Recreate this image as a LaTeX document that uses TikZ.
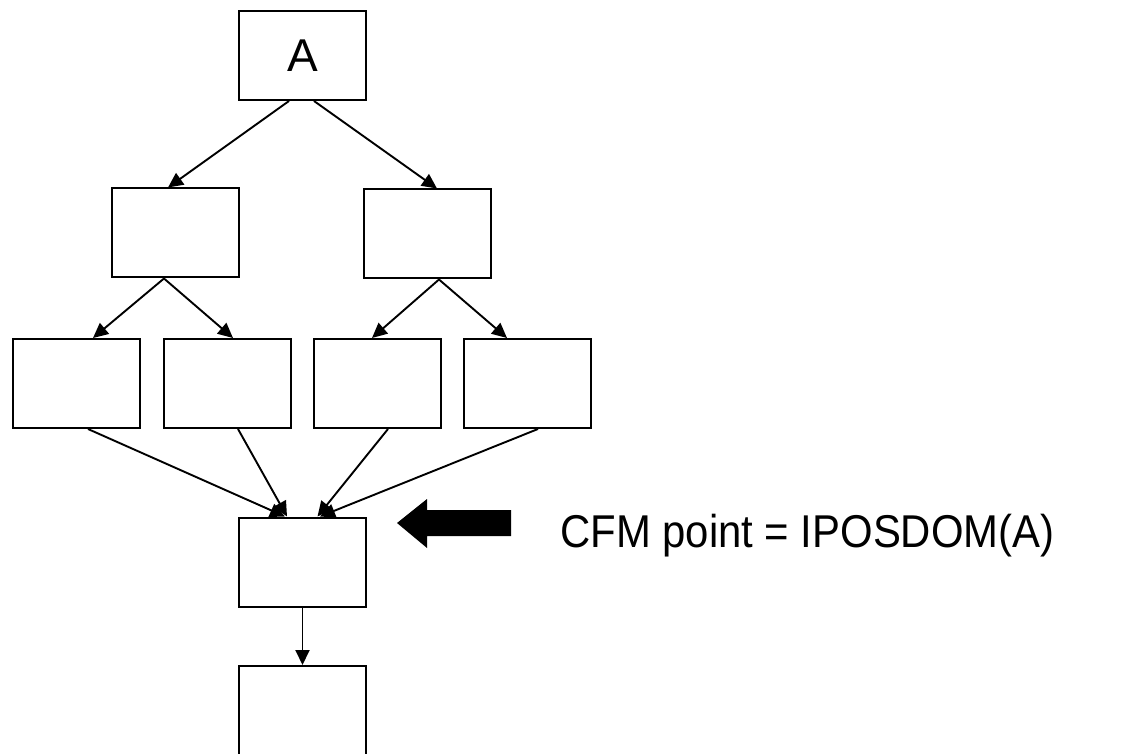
\documentclass[tikz,border=0pt]{standalone}
\usepackage{fontspec}
\usepackage{graphicx}
\setmainfont{Liberation Sans}
\usetikzlibrary{arrows.meta}
\begin{document}
\begin{tikzpicture}[x=1pt,y=-1pt,
  big/.style={font=\fontsize{46}{50}\selectfont},
  box/.style={draw, line width=2pt, minimum width=127pt, minimum height=89pt,
              inner sep=0pt, big},
  link/.style={line width=1.9pt, -{Triangle[length=15pt,width=14pt]}}]
\useasboundingbox (0,0) rectangle (1133,754);

% dominator tree boxes
\node[box] (A)  at (302.5,55.5) {A};
\node[box] (L)  at (175,233) {};
\node[box] (R)  at (427.5,234) {};
\node[box] (b1) at (76.5,383.5) {};
\node[box] (b2) at (227.5,383.5) {};
\node[box] (b3) at (377,383.5) {};
\node[box] (b4) at (527.5,383.5) {};
\node[box] (M)  at (302.5,562) {};
\node[box, minimum height=92pt] (E) at (302.5,712) {};

% edges
\draw[link] ([xshift=-13.5pt]A.south) -- ([xshift=-7pt]L.north);
\draw[link] ([xshift=11.5pt]A.south)  -- ([xshift=9.5pt]R.north);
\draw[link] ([xshift=-11pt]L.south)   -- ([xshift=16.5pt]b1.north);
\draw[link] ([xshift=-11pt]L.south)   -- ([xshift=5.5pt]b2.north);
\draw[link] ([xshift=11.5pt]R.south)  -- ([xshift=-5pt]b3.north);
\draw[link] ([xshift=11.5pt]R.south)  -- ([xshift=-20.5pt]b4.north);
\draw[link] ([xshift=11.5pt]b1.south) -- ([xshift=-17.5pt]M.north);
\draw[link] ([xshift=10.5pt]b2.south) -- ([xshift=-15.5pt]M.north);
\draw[link] ([xshift=11pt]b3.south)   -- ([xshift=15pt]M.north);
\draw[link] ([xshift=10.5pt]b4.south) -- ([xshift=17.5pt]M.north);
\draw[link] (M.south) -- (E.north);

% pointer and label
\fill (397,523) -- (427,499) -- (427,510) -- (511,510) -- (511,536)
      -- (427,536) -- (427,548) -- cycle;
\node[big, anchor=base west, inner sep=0pt] (cfm) at (560,547)
  {\scalebox{0.91}[1]{CFM point = IPOSDOM(A)}};
\end{tikzpicture}
\end{document}
